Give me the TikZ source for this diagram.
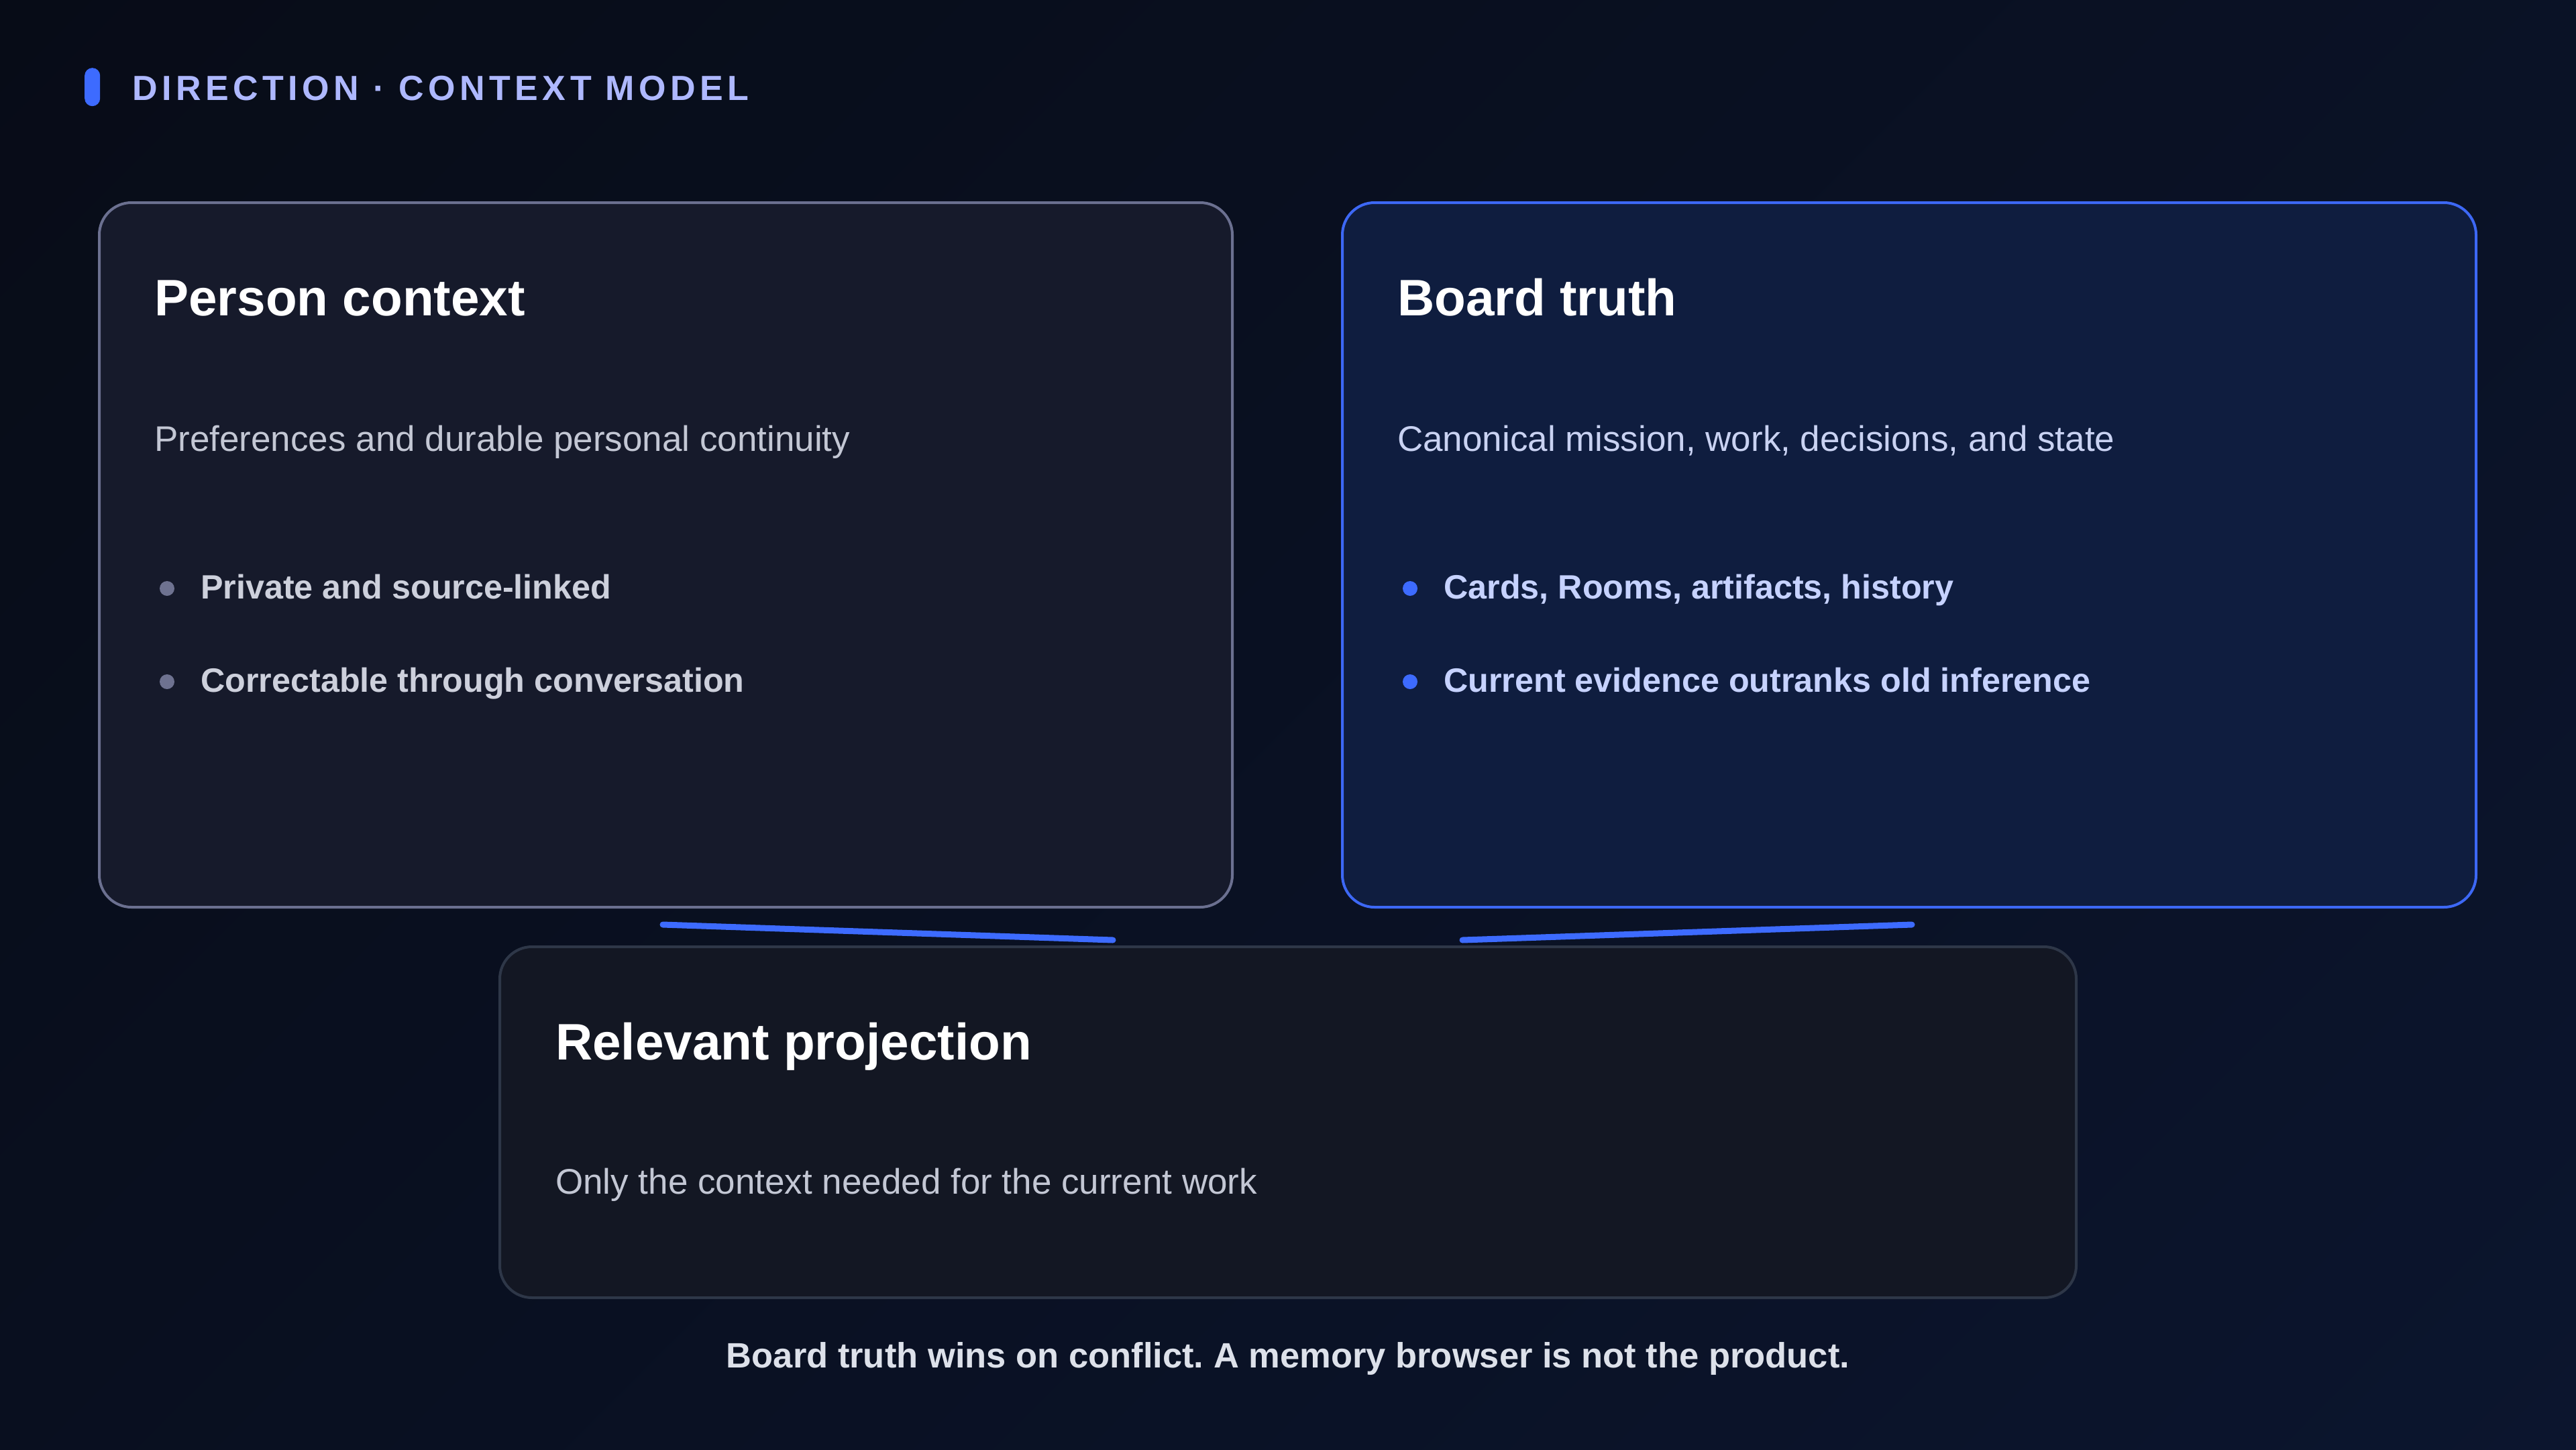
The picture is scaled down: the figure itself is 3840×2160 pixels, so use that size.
\documentclass[tikz,border=0pt]{standalone}
\usepackage{fontspec}
\setmainfont{Liberation Sans}
\newfontfamily\headfont[LetterSpace=12.5]{Liberation Sans}
\definecolor{bgA}{HTML}{070B15}
\definecolor{bgB}{HTML}{0C1630}
\definecolor{pfill}{HTML}{161A2B}
\definecolor{pborder}{HTML}{6B7090}
\definecolor{bfill}{HTML}{0F1D3F}
\definecolor{bborder}{HTML}{3D68F5}
\definecolor{rfill}{HTML}{131723}
\definecolor{rborder}{HTML}{2E3748}
\definecolor{accent}{HTML}{3D6BFF}
\definecolor{headcol}{HTML}{AEB8FF}
\definecolor{subgray}{HTML}{C3C7D4}
\definecolor{subblue}{HTML}{C9D2F2}
\definecolor{bulgray}{HTML}{CDD0DC}
\definecolor{bulblue}{HTML}{C6D2FF}
\definecolor{dotgray}{HTML}{6E7290}
\definecolor{footcol}{HTML}{DDE1EA}
\frenchspacing
\tikzset{
  card/.style={rounded corners=48pt, line width=4pt, anchor=north west, inner sep=0pt, outer sep=0pt},
  titletxt/.style={anchor=base west, inner sep=0pt, text=white, font=\bfseries\fontsize{76.5}{90}\selectfont},
  subtxt/.style={anchor=base west, inner sep=0pt, font=\fontsize{53}{62}\selectfont},
  bultxt/.style={anchor=base west, inner sep=0pt, font=\bfseries\fontsize{50.3}{60}\selectfont},
  bdot/.style={circle, inner sep=0pt, minimum size=22pt},
  link/.style={accent, line width=9pt, line cap=round}
}
\begin{document}
\begin{tikzpicture}[x=1pt,y=-1pt]
\useasboundingbox (0,0) rectangle (3840,2160);
\shade[top color=bgA, bottom color=bgB, shading angle=45] (-800,-1200) rectangle (4640,3360);
% header
\node[fill=accent, rounded corners=11.5pt, minimum width=23pt, minimum height=57pt, inner sep=0pt, anchor=north west] (pill) at (126,101) {};
\node[anchor=base west, inner sep=0pt, text=headcol, font=\headfont\bfseries\fontsize{52}{62}\selectfont] (head) at (197,149) {DIRECTION · CONTEXT MODEL};
% cards
\node[card, draw=pborder, fill=pfill, minimum width=1689pt, minimum height=1050pt] (person) at (148,302) {};
\node[card, draw=bborder, fill=bfill, minimum width=1690pt, minimum height=1050pt] (board) at (2001,302) {};
\node[card, draw=rborder, fill=rfill, minimum width=2350pt, minimum height=523pt] (proj) at (745,1411) {};
% person text
\node[titletxt] (pt) at (230,470) {Person context};
\node[subtxt, text=subgray] (ps) at (230,672) {Preferences and durable personal continuity};
\node[bdot, fill=dotgray] (pd1) at (249,877) {};
\node[bultxt, text=bulgray] (pb1) at (299,892) {Private and source-linked};
\node[bdot, fill=dotgray] (pd2) at (249,1016) {};
\node[bultxt, text=bulgray] (pb2) at (299,1031) {Correctable through conversation};
% board text
\node[titletxt] (bt) at (2083,470) {Board truth};
\node[subtxt, text=subblue] (bs) at (2083,672) {Canonical mission, work, decisions, and state};
\node[bdot, fill=accent] (bd1) at (2102,877) {};
\node[bultxt, text=bulblue] (bb1) at (2152,892) {Cards, Rooms, artifacts, history};
\node[bdot, fill=accent] (bd2) at (2102,1016) {};
\node[bultxt, text=bulblue] (bb2) at (2152,1031) {Current evidence outranks old inference};
% projection text
\node[titletxt] (rt) at (828,1579) {Relevant projection};
\node[subtxt, text=subgray] (rs) at (828,1779) {Only the context needed for the current work};
% connectors
\coordinate (l1) at (988,1378);
\coordinate (l2) at (1659,1401);
\coordinate (r1) at (2850,1378);
\coordinate (r2) at (2180,1401);
\draw[link] (l1) -- (l2);
\draw[link] (r1) -- (r2);
% footer
\node[anchor=base, inner sep=0pt, text=footcol, font=\bfseries\fontsize{52.5}{62}\selectfont] (foot) at (1920,2038) {Board truth wins on conflict. A memory browser is not the product.};
\end{tikzpicture}
\end{document}
